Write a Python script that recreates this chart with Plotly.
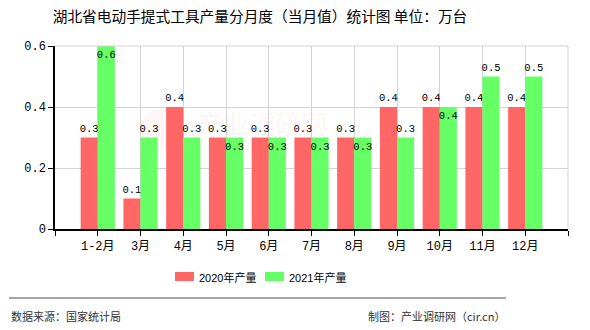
import plotly.graph_objects as go

# Monthly output of electric hand-held power tools in Hubei (10k units)
categories = ["1-2月", "3月", "4月", "5月", "6月", "7月", "8月", "9月", "10月", "11月", "12月"]
values_2020 = [0.3, 0.1, 0.4, 0.3, 0.3, 0.3, 0.3, 0.4, 0.4, 0.4, 0.4]
values_2021 = [0.6, 0.3, 0.3, 0.3, 0.3, 0.3, 0.3, 0.3, 0.4, 0.5, 0.5]
series_names = ["2020年产量", "2021年产量"]
series_colors = ["#FF6666", "#66FF66"]
y_ticks = [0, 0.2, 0.4, 0.6]
y_tick_labels = ["0", "0.2", "0.4", "0.6"]

# green labels placed inside the bar where they would collide with the red label
pos_2021 = ["inside", "outside", "outside", "inside", "inside", "inside",
            "inside", "outside", "inside", "outside", "outside"]

x_pos = list(range(1, len(categories) + 1))
num_font = "Liberation Mono, Noto Sans CJK SC, monospace"
cjk_font = "Noto Sans CJK SC, sans-serif"

fig = go.Figure()
fig.add_trace(go.Bar(
    x=x_pos, y=values_2020, name=series_names[0], marker_color=series_colors[0],
    marker_line_width=0, text=[str(v) for v in values_2020],
    textposition="outside", textfont=dict(family=num_font, size=10.5, color="#000"),
    cliponaxis=False,
))
fig.add_trace(go.Bar(
    x=x_pos, y=values_2021, name=series_names[1], marker_color=series_colors[1],
    marker_line_width=0, text=[str(v) for v in values_2021],
    textposition=pos_2021, insidetextanchor="end", textangle=0,
    textfont=dict(family=num_font, size=10.5, color="#000"),
    cliponaxis=False,
))

L, R, T, B = 55, 22, 46, 101
W, H = 590, 330
pw, ph = W - L - R, H - T - B

def px_x(x):
    return (x - L) / pw

def px_y(y):
    return (H - B - y) / ph

fig.update_layout(
    width=W, height=H,
    margin=dict(l=L, r=R, t=T, b=B),
    paper_bgcolor="white", plot_bgcolor="white",
    barmode="group", bargap=0.2, bargroupgap=0,
    uniformtext=dict(minsize=10.5, mode="show"),
    title=dict(text="湖北省电动手提式工具产量分月度（当月值）统计图 单位：万台",
               x=260 / W, xanchor="center", y=1 - 17 / H, yanchor="middle",
               font=dict(family=cjk_font, size=14.7, color="#000")),
    showlegend=False,
    font=dict(family=num_font, size=12, color="#000"),
)

fig.update_xaxes(
    range=[0, len(categories) + 1], tickmode="array",
    tickvals=list(range(0, len(categories) + 2)),
    ticktext=[""] + categories + [""],
    showgrid=True, gridcolor="#d3d3d3", gridwidth=1,
    showline=True, linecolor="#000", linewidth=1.5,
    ticks="outside", ticklen=5, tickcolor="#000",
    tickfont=dict(family=num_font, size=12, color="#000"),
    zeroline=False, fixedrange=True,
)
fig.update_yaxes(
    range=[0, 0.6], tickmode="array", tickvals=y_ticks, ticktext=y_tick_labels,
    showgrid=True, gridcolor="#d3d3d3", gridwidth=1,
    showline=True, linecolor="#000", linewidth=1.5,
    ticks="outside", ticklen=5, tickcolor="#000",
    tickfont=dict(family=num_font, size=12, color="#000"),
    zeroline=False, fixedrange=True,
)

# top and right border of the plot area
fig.add_shape(type="line", xref="paper", yref="paper", x0=0, x1=1, y0=1, y1=1,
              line=dict(color="#d3d3d3", width=1))
fig.add_shape(type="line", xref="paper", yref="paper", x0=1, x1=1, y0=0, y1=1,
              line=dict(color="#d3d3d3", width=1))

# legend drawn as swatches + labels
legend_swatch_x = [175, 265]
for sx, name, color in zip(legend_swatch_x, series_names, series_colors):
    fig.add_shape(type="rect", xref="paper", yref="paper",
                  x0=px_x(sx), x1=px_x(sx + 19), y0=px_y(272), y1=px_y(281),
                  fillcolor=color, line=dict(width=0))
    fig.add_annotation(text=name, xref="paper", yref="paper",
                       x=px_x(sx + 22), y=px_y(277), xanchor="left", yanchor="middle",
                       showarrow=False,
                       font=dict(family="Liberation Sans, " + cjk_font, size=11, color="#000"))

# faint watermark: round logo + site name
fig.add_shape(type="circle", xref="paper", yref="paper", layer="below",
              x0=px_x(142), x1=px_x(182), y0=px_y(108), y1=px_y(148),
              fillcolor="rgba(255,80,80,0.05)", line=dict(width=0))
fig.add_annotation(text="产业调研网", xref="paper", yref="paper",
                   x=px_x(262), y=px_y(122), showarrow=False,
                   font=dict(family=cjk_font, size=26, color="rgba(255,80,80,0.07)"))

# footer rule and source lines
fig.add_shape(type="line", xref="paper", yref="paper",
              x0=px_x(9), x1=px_x(506), y0=px_y(298), y1=px_y(298),
              line=dict(color="#888", width=1.5))
fig.add_annotation(text="数据来源：国家统计局", xref="paper", yref="paper",
                   x=px_x(9), y=px_y(316), xanchor="left", yanchor="middle",
                   showarrow=False, font=dict(family=cjk_font, size=11, color="#333"))
fig.add_annotation(text="制图：产业调研网（cir.cn）", xref="paper", yref="paper",
                   x=px_x(507), y=px_y(316), xanchor="right", yanchor="middle",
                   showarrow=False, font=dict(family=cjk_font, size=11, color="#333"))

fig.write_html("out.html")
